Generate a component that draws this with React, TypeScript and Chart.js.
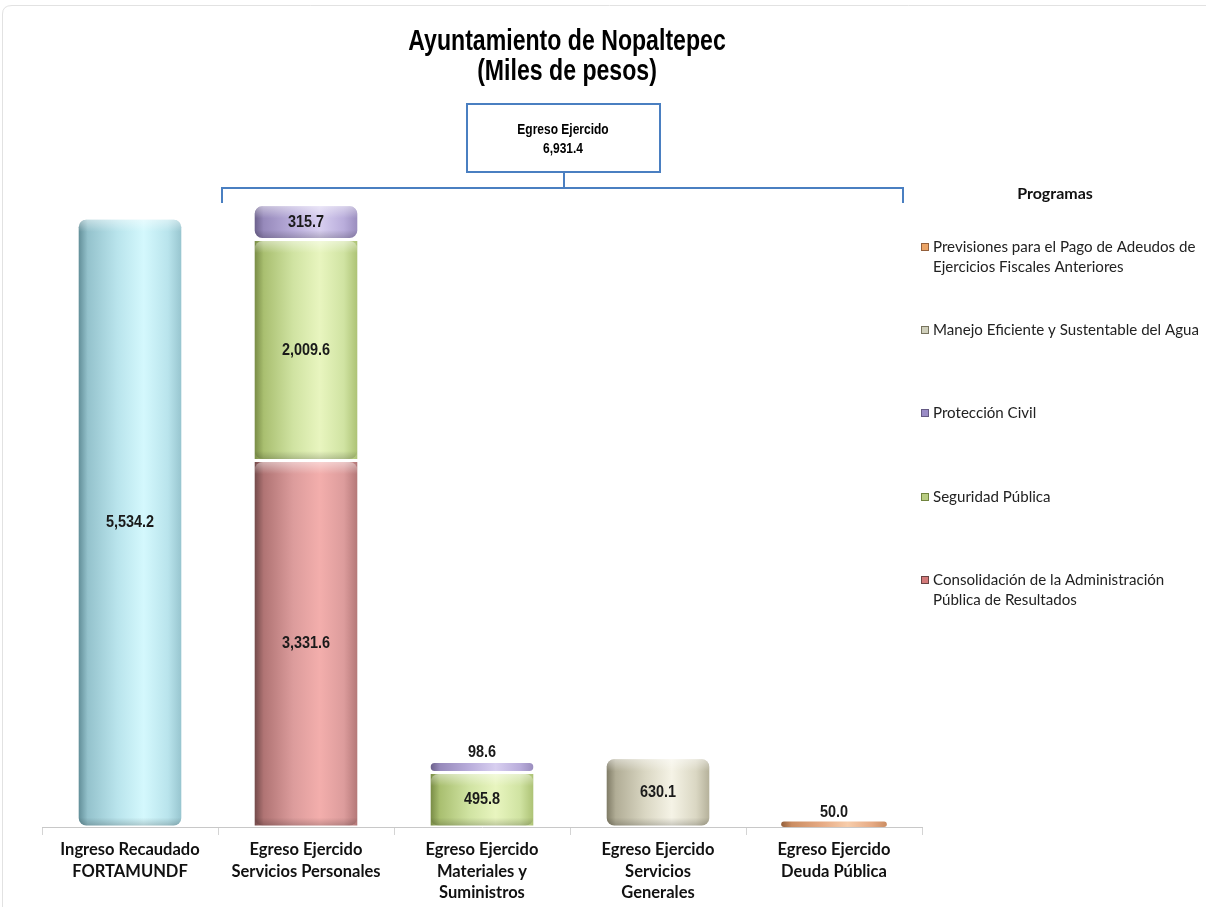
import React, { useEffect, useRef } from "react";
import { Chart, registerables } from "chart.js";

Chart.register(...registerables);

const titleLines = ["Ayuntamiento de Nopaltepec", "(Miles de pesos)"];
const categories = [
  ["Ingreso Recaudado", "FORTAMUNDF"],
  ["Egreso Ejercido", "Servicios Personales"],
  ["Egreso Ejercido", "Materiales y", "Suministros"],
  ["Egreso Ejercido", "Servicios", "Generales"],
  ["Egreso Ejercido", "Deuda Pública"],
];
const ingresoValues = [5534.2, null, null, null, null];
const consolidacionValues = [null, 3331.6, null, null, null];
const seguridadValues = [null, 2009.6, 495.8, null, null];
const proteccionValues = [null, 315.7, 98.6, null, null];
const aguaValues = [null, null, null, 630.1, null];
const previsionesValues = [null, null, null, null, 50.0];
const egresoBoxLabel = "Egreso Ejercido";
const egresoTotal = 6931.4;
const legendTitle = "Programas";

const seriesNames = [
  "Ingreso Recaudado FORTAMUNDF",
  "Consolidación de la Administración Pública de Resultados",
  "Seguridad Pública",
  "Protección Civil",
  "Manejo Eficiente y Sustentable del Agua",
  "Previsiones para el Pago de Adeudos de Ejercicios Fiscales Anteriores",
];
const legendLines: Record<string, string[]> = {
  "Previsiones para el Pago de Adeudos de Ejercicios Fiscales Anteriores": [
    "Previsiones para el Pago de Adeudos de",
    "Ejercicios Fiscales Anteriores",
  ],
  "Manejo Eficiente y Sustentable del Agua": ["Manejo Eficiente y Sustentable del Agua"],
  "Protección Civil": ["Protección Civil"],
  "Seguridad Pública": ["Seguridad Pública"],
  "Consolidación de la Administración Pública de Resultados": [
    "Consolidación de la Administración",
    "Pública de Resultados",
  ],
};

// [dark, edge, mid, light]
const palette = [
  ["#5a8690", "#94c2cc", "#b9e4ec", "#d4f8fd"],
  ["#6a4444", "#b07474", "#dc9c9c", "#f3aeac"],
  ["#71843f", "#a9bf70", "#d0e3a2", "#e8f5bf"],
  ["#655a84", "#978abb", "#b9addb", "#d8cff0"],
  ["#77735e", "#b1ad96", "#dad7c3", "#f5f3e6"],
  ["#93603c", "#cb8d62", "#e6aa84", "#f7cdab"],
];
const swatchColors = ["#9cd0dc", "#d47a7a", "#b9cd82", "#9a8cc6", "#cfcfbb", "#eba466"];

const fmt = (v: number) =>
  v.toLocaleString("en-US", { minimumFractionDigits: 1, maximumFractionDigits: 1 });

const ARIAL = "'Liberation Sans', Arial, sans-serif";

function narrowText(c: CanvasRenderingContext2D, text: string, x: number, y: number, sx: number) {
  c.save();
  c.translate(x, y);
  c.scale(sx, 1);
  c.fillText(text, 0, 0);
  c.restore();
}

export default function App() {
  const ref = useRef<HTMLCanvasElement | null>(null);

  useEffect(() => {
    if (!ref.current) return;
    const allValues = [
      ingresoValues,
      consolidacionValues,
      seguridadValues,
      proteccionValues,
      aguaValues,
      previsionesValues,
    ];
    const BAR_PCT = 0.6;

    const makeBg = (di: number) => (ctx: any) => {
      const chart = ctx.chart;
      const xs = chart.scales?.x;
      const [dark, edge, mid, light] = palette[di];
      if (!xs || !chart.chartArea || ctx.dataIndex === undefined) return mid;
      const cx = xs.getPixelForValue(ctx.dataIndex);
      const catW = (chart.chartArea.right - chart.chartArea.left) / categories.length;
      const w = catW * BAR_PCT;
      const g = chart.ctx.createLinearGradient(cx - w / 2, 0, cx + w / 2, 0);
      g.addColorStop(0, dark);
      g.addColorStop(0.1, edge);
      g.addColorStop(0.38, mid);
      g.addColorStop(0.63, light);
      g.addColorStop(0.86, mid);
      g.addColorStop(1, edge);
      return g;
    };

    const decorPlugin = {
      id: "decor",
      beforeDraw(chart: any) {
        const c = chart.ctx;
        c.save();
        c.fillStyle = "#ffffff";
        c.fillRect(0, 0, chart.width, chart.height);
        c.strokeStyle = "#e2e2e2";
        c.lineWidth = 1;
        c.beginPath();
        c.moveTo(2.5, 920);
        c.lineTo(2.5, 14);
        c.quadraticCurveTo(2.5, 5.5, 12, 5.5);
        c.lineTo(1220, 5.5);
        c.stroke();
        c.restore();
      },
      afterDatasetsDraw(chart: any) {
        const c = chart.ctx;
        c.save();
        chart.data.datasets.forEach((ds: any, di: number) => {
          const meta = chart.getDatasetMeta(di);
          meta.data.forEach((el: any, i: number) => {
            const v = ds.data[i];
            if (v === null || v === undefined) return;
            const h = Math.abs(el.base - el.y);
            if (h < 14) return;
            const x0 = el.x - el.width / 2 + 1.5;
            const wd = el.width - 3;
            const top = el.y + 1.5;
            const g = c.createLinearGradient(0, top, 0, top + 12);
            g.addColorStop(0, "rgba(255,255,255,0.45)");
            g.addColorStop(1, "rgba(255,255,255,0)");
            c.fillStyle = g;
            c.beginPath();
            (c as any).roundRect(x0, top, wd, 12, [8, 8, 0, 0]);
            c.fill();
            const bot = el.base - 1.5;
            const g2 = c.createLinearGradient(0, bot - 8, 0, bot);
            g2.addColorStop(0, "rgba(0,0,0,0)");
            g2.addColorStop(1, "rgba(0,0,0,0.18)");
            c.fillStyle = g2;
            c.beginPath();
            (c as any).roundRect(x0, bot - 8, wd, 8, [0, 0, 8, 8]);
            c.fill();
          });
        });
        c.restore();
      },
      afterDraw(chart: any) {
        const c = chart.ctx;
        const xs = chart.scales.x;
        const area = chart.chartArea;
        const catW = (area.right - area.left) / categories.length;
        c.save();
        c.fillStyle = "#000";
        c.textAlign = "center";
        c.textBaseline = "middle";
        c.font = `bold 30px ${ARIAL}`;
        narrowText(c, titleLines[0], 567, 42, 0.77);
        narrowText(c, titleLines[1], 567, 72, 0.77);

        const left = xs.getPixelForValue(1) - catW / 2 + 4;
        const right = xs.getPixelForValue(4) + catW / 2 - 19;
        const midX = 564;
        c.strokeStyle = "#4a7fc1";
        c.lineWidth = 2;
        c.beginPath();
        c.moveTo(left, 203);
        c.lineTo(left, 188);
        c.lineTo(right, 188);
        c.lineTo(right, 203);
        c.moveTo(midX, 188);
        c.lineTo(midX, 172);
        c.stroke();
        c.strokeRect(467, 104, 193, 68);
        c.fillStyle = "#000";
        c.font = `bold 15px ${ARIAL}`;
        narrowText(c, egresoBoxLabel, 563, 130, 0.8);
        narrowText(c, fmt(egresoTotal), 563, 149, 0.8);

        c.textAlign = "center";
        c.font = "bold 16px Lato, 'Open Sans', sans-serif";
        c.fillStyle = "#111";
        c.fillText(legendTitle, 1055, 194);
        const order = [5, 4, 3, 2, 1];
        const ys = [247, 330, 413, 497, 580];
        c.textAlign = "left";
        c.font = "15.1px Lato, 'Open Sans', sans-serif";
        order.forEach((di, k) => {
          const name = seriesNames[di];
          const lines = legendLines[name] || [name];
          const y = ys[k];
          const [dark] = palette[di];
          c.fillStyle = swatchColors[di];
          c.fillRect(921, y - 4, 8, 8);
          c.strokeStyle = dark;
          c.lineWidth = 1;
          c.strokeRect(921.5, y - 3.5, 7, 7);
          c.fillStyle = "#222";
          lines.forEach((ln, li) => c.fillText(ln, 933, y + li * 20));
        });

        c.textAlign = "center";
        c.font = `bold 17px ${ARIAL}`;
        c.fillStyle = "#1a1a1a";
        chart.data.datasets.forEach((ds: any, di: number) => {
          const meta = chart.getDatasetMeta(di);
          meta.data.forEach((el: any, i: number) => {
            const v = ds.data[i];
            if (v === null || v === undefined) return;
            const h = Math.abs(el.base - el.y);
            const y = h < 24 ? el.y - 9 : (el.y + el.base) / 2;
            narrowText(c, fmt(v), el.x, y, 0.85);
          });
        });
        c.restore();
      },
    };

    const chart = new Chart(ref.current, {
      type: "bar",
      data: {
        labels: categories as any,
        datasets: allValues.map((vals, di) => ({
          label: seriesNames[di],
          data: vals as any,
          backgroundColor: makeBg(di) as any,
          borderColor: "#ffffff",
          borderWidth: di === 5 ? 0 : 1.5,
          borderRadius: 9,
          borderSkipped: false,
          categoryPercentage: 1,
          barPercentage: BAR_PCT,
        })),
      },
      options: {
        animation: false,
        responsive: false,
        devicePixelRatio: 1,
        layout: { padding: { top: 57, left: 42, right: 284, bottom: 0 } },
        plugins: {
          legend: { display: false },
          title: { display: false },
          tooltip: { enabled: false },
        },
        scales: {
          x: {
            stacked: true,
            afterFit: (scale: any) => {
              scale.height = 80;
            },
            grid: {
              display: true,
              drawOnChartArea: false,
              drawTicks: true,
              tickLength: 8,
              color: "#d4d4d4",
            },
            border: { display: true, color: "#c8c8c8" },
            ticks: {
              autoSkip: false,
              maxRotation: 0,
              padding: 4,
              color: "#111",
              font: { family: "Lato, 'Open Sans', sans-serif", weight: "bold", size: 16.5, lineHeight: 1.3 },
            },
          },
          y: {
            stacked: true,
            display: false,
            min: 0,
            max: 7000,
          },
        },
      },
      plugins: [decorPlugin],
    });
    return () => chart.destroy();
  }, []);

  return (
    <div style={{ position: "absolute", left: 0, top: 0, width: 1206, height: 907 }}>
      <canvas ref={ref} width={1206} height={907} style={{ display: "block" }} />
    </div>
  );
}
